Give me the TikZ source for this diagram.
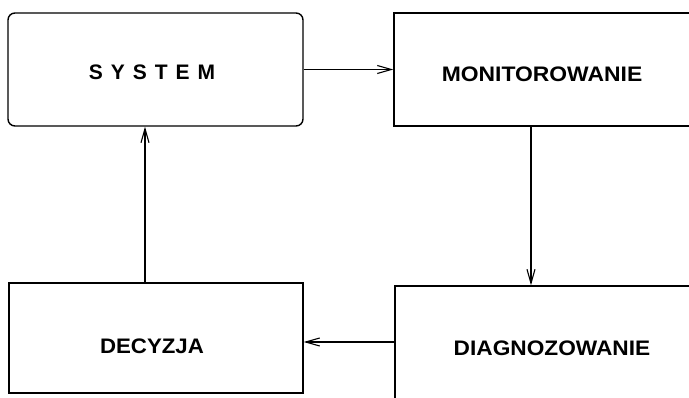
\documentclass[tikz,border=0pt]{standalone}
\usepackage{fontspec}
\setmainfont{Liberation Sans}
\newfontfamily\widefont[LetterSpace=38]{Liberation Sans}
\usetikzlibrary{arrows.meta}
\begin{document}
\begin{tikzpicture}[x=1pt,y=-1pt,
  box/.style={draw,line width=1.4pt,rectangle,inner sep=0pt},
  lbl/.style={font=\fontsize{21}{25}\selectfont\bfseries,inner sep=0pt,anchor=center},
  conn/.style={line width=1.1pt,-{Straight Barb[length=14pt,width=8pt,line width=1.1pt]}}]
\useasboundingbox (0,0) rectangle (689,398);
% boxes
\node[box,rounded corners=7pt,minimum width=295pt,minimum height=113pt] (sys) at (155.5,69.5) {};
\node[box,minimum width=320pt,minimum height=113pt] (mon) at (554,69.5) {};
\node[box,minimum width=320pt,minimum height=140pt] (diag) at (555,356) {};
\node[box,minimum width=294pt,minimum height=110pt] (dec) at (156,338) {};
% labels
\node[lbl] (systxt) at (152,72.5) {\widefont\bfseries SYSTEM};
\node[lbl] (montxt) at (542,74) {\scalebox{1.09}[1]{MONITOROWANIE}};
\node[lbl] (diagtxt) at (552,348) {\scalebox{1.08}[1]{DIAGNOZOWANIE}};
\node[lbl] (dectxt) at (152,346) {\scalebox{1.06}[1]{DECYZJA}};
% connector anchors
\coordinate (c1) at (531,126);
\coordinate (c2) at (395,342);
\coordinate (c3) at (145,283);
% connectors
\draw[conn] (sys.east) -- (mon.west);
\draw[conn] (c1) -- (c1 |- diag.north);
\draw[conn] (c2) -- (c2 -| dec.east);
\draw[conn] (c3) -- (c3 |- sys.south);
\end{tikzpicture}
\end{document}
